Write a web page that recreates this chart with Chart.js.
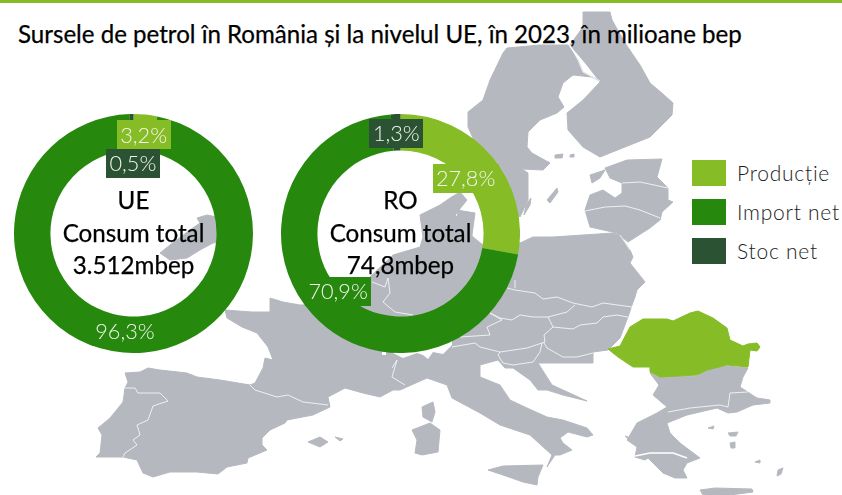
<!DOCTYPE html>
<html lang="ro">
<head>
<meta charset="utf-8">
<script src="https://cdn.jsdelivr.net/npm/chart.js@4"></script>
<style>
html,body{margin:0;padding:0;background:#fff;width:842px;height:495px;overflow:hidden}
#stage{position:relative;width:842px;height:495px;font-family:Lato,sans-serif}
#bar{position:absolute;left:0;top:0;width:842px;height:3px;background:#86BC25}
#map{position:absolute;left:0;top:0;filter:blur(.45px)}
#title{position:absolute;left:18px;top:18px;font-size:24.1px;line-height:32px;color:#000;white-space:nowrap;-webkit-text-stroke:.25px #000}
canvas{position:absolute}
#c1{left:14px;top:114px}
#c2{left:281px;top:114px}
.li{position:absolute;left:692px;height:26px}
.sw{position:absolute;left:0;top:0;width:34px;height:26px}
.tx{position:absolute;left:45px;top:-2px;font-size:21px;font-weight:300;line-height:30px;color:#1c1c1c;white-space:nowrap;letter-spacing:.75px}
</style>
</head>
<body>
<div id="stage">
<svg id="map" width="842" height="495" xmlns="http://www.w3.org/2000/svg"></svg>
<div id="bar"></div>
<div id="title"></div>
<canvas id="c1" width="239" height="239"></canvas>
<canvas id="c2" width="239" height="239"></canvas>
<div id="legend"></div>
</div>
<script>
const titleText = 'Sursele de petrol în România și la nivelul UE, în 2023, în milioane bep';
const categories = ['Producție', 'Import net', 'Stoc net'];
const ueValues = [3.2, 96.3, 0.5];
const roValues = [27.8, 70.9, 1.3];
const ueCenter = ['UE', 'Consum total', '3.512mbep'];
const roCenter = ['RO', 'Consum total', '74,8mbep'];
const colors = ['#86BC25', '#26890D', '#2C5234'];

/* background map: decorative outlines */
const GREY = '#B5B9BF';
const land = [
 // Sweden
 '507,48 540,45 568,45 578,60 583,72 600,81 592,77 573,75 563,83 558,97 564,107 557,113 540,120 528,132 527,147 532,153 550,163 543,170 522,169 528,173 528,200 520,217 500,197 483,160 468,127 468,112 483,100 490,80 503,53',
 // Finland
 '583,12 610,12 612,20 625,43 640,65 650,83 663,94 673,103 672,115 650,137 600,157 583,147 568,130 567,113 583,100 600,82 587,65 570,45 583,27',
 // Baltics
 '605,168 627,160 662,159 657,177 668,188 668,200 673,202 662,212 660,220 650,228 628,242 617,233 590,227 585,210 590,195 603,190 615,198 622,193 622,183 610,178',
 // Saaremaa, Gotland, Aland, Oland
 '590,175 605,170 600,178 592,183','547,200 557,188 558,192 550,203','555,155 563,154 562,158 555,158','570,155 574,154 574,157 570,157','526,205 531,198 530,205 524,215',
 // Ireland
 '217,217 207,215 197,218 200,223 190,230 170,245 160,253 170,260 187,258 200,250 213,243 235,240 235,220',
 // Continental mainland
 '225,310 252,312 270,312 270,298 283,302 300,305 358,303 370,277 393,255 420,247 423,237 420,215 440,205 450,198 460,192 467,200 455,215 467,227 473,237 483,245 490,247 520,243 533,237 553,237 613,233 620,235 630,250 633,257 630,263 645,282 637,290 635,297 632,305 628,317 620,338 608,350 593,352 593,363 560,363 538,363 552,385 563,390 587,401 563,395 547,390 538,390 530,380 513,368 505,368 498,360 480,365 480,377 500,385 510,400 527,408 547,417 563,420 587,428 593,435 587,437 568,432 560,438 563,443 572,450 560,455 555,455 547,467 552,455 530,435 500,425 480,413 452,398 447,385 427,378 400,390 393,390 380,397 363,393 345,388 328,397 330,407 313,415 287,420 285,423 270,430 262,438 262,445 267,450 248,458 247,463 227,467 218,474 197,472 170,472 153,477 143,473 137,460 123,457 113,457 96,457 100,453 102,435 98,428 110,418 123,402 125,388 128,382 125,373 140,372 148,368 160,370 187,373 197,377 220,380 250,385 255,383 263,368 265,358 273,360 268,347 257,333 242,327 227,318',
 // Danish islands
 '457,210 475,213 472,235 458,230',
 // Bulgaria + Greece mainland
 '650,373 658,377 697,376 710,368 727,366 748,368 743,377 740,387 757,398 770,400 770,403 753,405 737,412 728,413 717,408 687,415 667,423 670,433 680,443 700,458 687,463 683,470 687,478 675,478 663,473 648,458 645,460 635,457 637,447 627,440 637,423 657,413 667,407 653,395 659,385',
 // Sicily, Corsica, Sardinia, Balearics
 '488,470 503,466 543,465 538,477 537,485 523,482 503,475','422,407 433,402 435,412 432,422 423,417','412,430 430,423 440,430 438,452 422,455 415,453 417,440','308,442 320,437 328,442 320,447','335,437 343,439 340,441',
 // Crete and Aegean islands
 '700,490 715,488 752,489 753,492 730,495 703,495','778,470 783,468 781,474 777,476','728,433 738,432 736,436 730,436','730,443 735,442 735,448 731,448','708,428 714,426 713,429','755,462 760,460 760,463','630,440 625,436 628,437'
];
const whiteMask = ['393,353 403,358 417,353 423,355 428,359 433,352 443,354 452,345 452,335 393,335','382,352 386,351 386,355 382,355'];
const borders = [
 '250,385 255,390 277,397 288,395 303,402 328,405',
 '125,388 135,388 138,393 160,393 168,401 153,406 148,420 137,425 140,435 133,440 137,445 125,453 123,457',
 '392,368 397,360 392,377 405,385',
 '507,288 515,290 535,293 543,299 557,297 573,303 592,307 603,303 632,307',
 '515,280 515,288',
 '575,305 567,312 548,317 533,317 520,315 512,320 500,318 490,313',
 '548,317 553,327 573,329 580,325 597,323 603,317 617,315 633,318',
 '553,327 544,335 545,342 542,343 527,348 500,352 498,355 503,363 513,365 533,362 540,352 542,343',
 '544,343 547,348 563,357 577,357 593,353',
 '452,347 475,343 480,347 500,352',
 '460,337 490,335 487,327 502,320 490,313',
 '372,282 385,287 388,278 390,293 383,302 395,312 413,315',
 '570,45 578,60 583,72 600,81',
 '622,183 640,182 668,188',
 '585,211 605,207 625,206 640,210 660,218',
 '668,412 690,408 720,405 728,407 730,393 748,392',
 '620,235 630,250'
];
const whiteCuts = [
 '635,456 650,453 673,453 687,458',
 '668,425 680,428 690,428',
 '700,422 690,424 686,420'
];
const romania = '608,349 620,346 630,327 643,319 667,319 673,321 690,313 698,311 713,318 727,328 730,340 743,346 748,344 757,343 760,347 757,351 750,350 748,367 727,365 707,370 697,375 660,377 650,372 650,367 633,367 618,357';

const NS = 'http://www.w3.org/2000/svg';
const svg = document.getElementById('map');
function addShape(tag, pts, attrs){
  const el = document.createElementNS(NS, tag);
  el.setAttribute('points', pts);
  for (const k in attrs) el.setAttribute(k, attrs[k]);
  svg.appendChild(el);
}
land.forEach(p => addShape('polygon', p, {fill: GREY, stroke: GREY, 'stroke-width': 1, 'stroke-linejoin': 'round'}));
whiteMask.forEach(p => addShape('polygon', p, {fill: '#fff'}));
borders.forEach(p => addShape('polyline', p, {fill: 'none', stroke: '#fff', 'stroke-width': 0.9, 'stroke-opacity': 0.85}));
whiteCuts.forEach(p => addShape('polyline', p, {fill: 'none', stroke: '#fff', 'stroke-width': 1.6}));
addShape('polygon', romania, {fill: colors[0], stroke: colors[0], 'stroke-width': 1, 'stroke-linejoin': 'round'});

document.getElementById('title').textContent = titleText;

const legendEl = document.getElementById('legend');
categories.forEach((c, i) => {
  const row = document.createElement('div');
  row.className = 'li';
  row.style.top = (160 + i * 39) + 'px';
  const sw = document.createElement('div');
  sw.className = 'sw';
  sw.style.background = colors[i];
  const tx = document.createElement('div');
  tx.className = 'tx';
  tx.textContent = c;
  row.append(sw, tx);
  legendEl.appendChild(row);
});

const fmt = v => v.toFixed(1).replace('.', ',') + '%';

const boxLabels = {
  id: 'boxLabels',
  afterDatasetsDraw(chart, args, opts) {
    const ctx = chart.ctx;
    const ds = chart.data.datasets[0];
    const arcs = chart.getDatasetMeta(0).data;
    ctx.save();
    ctx.textAlign = 'center';
    ctx.textBaseline = 'middle';
    ctx.font = '300 21.7px Lato, sans-serif';
    arcs.forEach((arc, i) => {
      const p = arc.tooltipPosition();
      const cx = p.x + opts.shift[i][0], cy = p.y + opts.shift[i][1];
      const text = fmt(ds.data[i]);
      const w = Math.round(ctx.measureText(text).width + 7);
      ctx.fillStyle = ds.backgroundColor[i];
      ctx.fillRect(Math.round(cx - w / 2), Math.round(cy - 14.5), w, 29);
      ctx.fillStyle = '#F2F5EE';
      ctx.fillText(text, cx, cy + 1);
    });
    ctx.font = '24.2px Lato, sans-serif';
    ctx.fillStyle = '#000';
    const m = arcs[0];
    opts.center.forEach((line, i) => {
      const y = m.y + 0.5 + (i - 1) * 32.5;
      ctx.fillText(line, m.x, y);
      ctx.lineWidth = 0.25;
      ctx.strokeStyle = '#000';
      ctx.strokeText(line, m.x, y);
    });
    ctx.restore();
  }
};

function donut(id, values, center, shift) {
  return new Chart(document.getElementById(id), {
    type: 'doughnut',
    plugins: [boxLabels],
    data: {
      labels: categories,
      datasets: [{data: values, backgroundColor: colors, borderWidth: 0}]
    },
    options: {
      responsive: false,
      animation: false,
      cutout: '69.5%',
      layout: {padding: 0},
      plugins: {
        legend: {display: false},
        tooltip: {enabled: false},
        boxLabels: {center, shift}
      }
    }
  });
}
donut('c1', ueValues, ueCenter, [[0, 2], [0, -3], [1, 31]]);
donut('c2', roValues, roCenter, [[-12.5, 10], [12.5, -10.5], [0, 1]]);
</script>
</body>
</html>
